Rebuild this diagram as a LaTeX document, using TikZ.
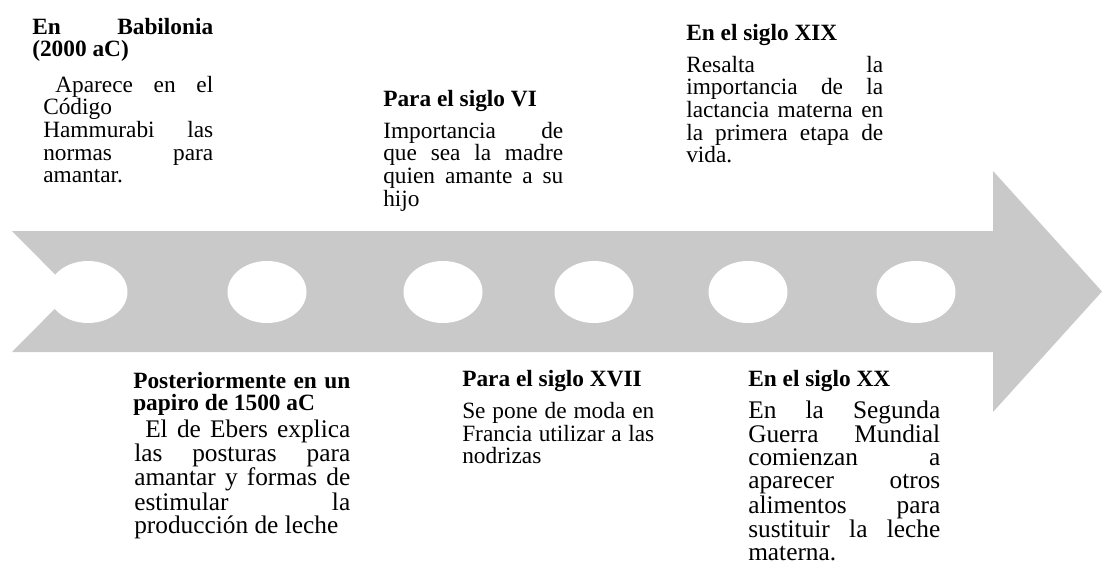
\documentclass[tikz,border=0pt]{standalone}
\usepackage{fontspec}
\setmainfont{Liberation Serif}
\usetikzlibrary{shapes.geometric}
\definecolor{arrowgray}{RGB}{201,201,201}
\tolerance=10000
\hbadness=10000
\lineskiplimit=-100pt
\tikzset{
	x=0.75pt, y=-0.75pt,
	every node/.style={inner sep=0pt, font=\fontsize{17.5}{17}\selectfont},
	head/.style={anchor=base west, align=justify, font=\fontsize{17.5}{17}\selectfont\bfseries},
	body/.style={anchor=base west, align=justify},
	bigbody/.style={body, font=\fontsize{19}{17.2}\selectfont},
	hole/.style={ellipse, fill=white, minimum width=59.25pt, minimum height=46.5pt},
}

\begin{document}
\begin{tikzpicture}
		\useasboundingbox (0,0) rectangle (1102,568);

		% timeline arrow
		\fill[arrowgray] (12,231) -- (993,231) -- (993,171) -- (1102,291.5) -- (993,412)
			-- (993,352) -- (12,352) -- (72,291.5) -- cycle;

		\node[hole] (e1) at (88,292) {};
		\node[hole] (e2) at (267,292) {};
		\node[hole] (e3) at (443,292) {};
		\node[hole] (e4) at (594,292) {};
		\node[hole] (e5) at (748,292) {};
		\node[hole] (e6) at (916,292) {};

		% above the arrow
		\node[head, text width=135.75pt] (h1) at (32,34) {En Babilonia\linebreak (2000 aC)};
		\node[body, text width=127.5pt] (t1) at (43,92) {\hspace*{9pt}Aparece en el\linebreak Código\linebreak Hammurabi las\linebreak normas para\linebreak amantar.};

		\node[head, text width=135pt] (h3) at (383,106) {Para el siglo VI};
		\node[body, text width=135pt] (t3) at (383,138) {Importancia de\linebreak que sea la madre\linebreak quien amante a su\linebreak hijo};

		\node[head, text width=147.75pt] (h5) at (686,40) {En el siglo XIX};
		\node[body, text width=147.75pt] (t5) at (686,72) {Resalta la\linebreak importancia de la\linebreak lactancia materna en\linebreak la primera etapa de\linebreak vida.};

		% below the arrow
		\node[head, text width=162.75pt] (h2) at (133,388) {Posteriormente en un\linebreak papiro de 1500 aC};
		\node[bigbody, text width=162pt] (t2) at (134,437) {\hspace*{8.25pt}El de Ebers explica\linebreak las posturas para\linebreak amantar y formas de\linebreak estimular la\linebreak producción de leche};

		\node[head, text width=144pt] (h4) at (462,386) {Para el siglo XVII};
		\node[body, text width=144pt] (t4) at (462,418.5) {Se pone de moda en\linebreak Francia utilizar a las\linebreak nodrizas};

		\node[head, text width=144pt] (h6) at (748,386) {En el siglo XX};
		\node[bigbody, text width=144pt] (t6) at (748,418.5) {En la Segunda\linebreak Guerra Mundial\linebreak comienzan a\linebreak aparecer otros\linebreak alimentos para\linebreak sustituir la leche\linebreak materna.};
	\end{tikzpicture}
\end{document}
